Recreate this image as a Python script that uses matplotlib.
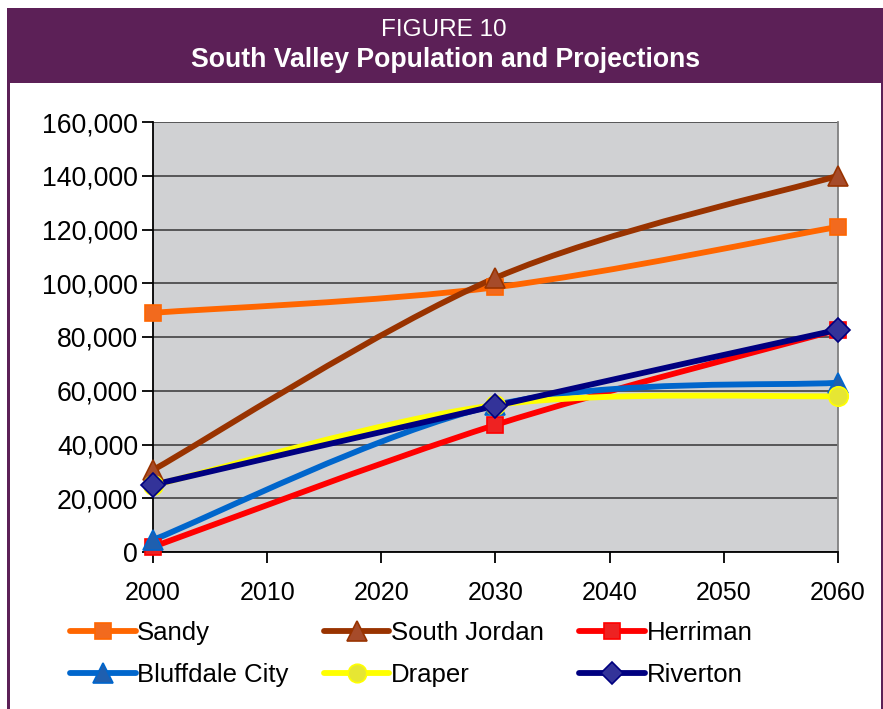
import matplotlib
matplotlib.use("Agg")
import matplotlib.pyplot as plt
from matplotlib.path import Path
from matplotlib.patches import PathPatch, Rectangle
from matplotlib.lines import Line2D
from matplotlib.ticker import FuncFormatter, MultipleLocator
import numpy as np

plt.rcParams['font.family'] = ['Liberation Sans', 'DejaVu Sans']

years = [2000, 2030, 2060]
sandy = [89000, 98500, 121000]
south_jordan = [30500, 102000, 140000]
herriman = [1900, 47300, 82700]
bluffdale = [4500, 54700, 63000]
draper = [24800, 54700, 58000]
riverton = [25000, 54400, 82700]

series_names = ["Sandy", "South Jordan", "Herriman", "Bluffdale City", "Draper", "Riverton"]
series_vals = [sandy, south_jordan, herriman, bluffdale, draper, riverton]
line_colors = ["#FF6600", "#993300", "#FF0000", "#0066CC", "#FFFF00", "#000080"]
marker_faces = ["#F26A1E", "#A64B2A", "#EE2222", "#1F5FAF", "#E6E633", "#333399"]
marker_edges = ["#FF6600", "#993300", "#FF0000", "#0066CC", "#FFFF00", "#000080"]
markers = ["s", "^", "s", "^", "o", "D"]
msizes = [12, 15, 12, 15, 14, 12]

W, H = 883, 709
fig = plt.figure(figsize=(W / 100, H / 100), dpi=100)

# frame / title band
fig.patches.append(Rectangle((7 / W, (H - 83) / H), (W - 7) / W, 75 / H,
                             transform=fig.transFigure, facecolor="#5C2057",
                             edgecolor="none", zorder=0))
fig.patches.append(Rectangle((7 / W, 0), 3 / W, (H - 83) / H,
                             transform=fig.transFigure, facecolor="#5C2057",
                             edgecolor="none", zorder=0))
fig.patches.append(Rectangle((881 / W, 0), 2 / W, (H - 83) / H,
                             transform=fig.transFigure, facecolor="#5C2057",
                             edgecolor="none", zorder=0))
fig.text(444 / W, (H - 30) / H, "FIGURE 10", color="white", fontsize=17.5,
         ha="center", va="center")
fig.text(446 / W, (H - 60) / H, "South Valley Population and Projections",
         color="white", fontsize=19.2, fontweight="bold", ha="center", va="center")

ax = fig.add_axes([153 / W, (H - 552) / H, (838 - 153) / W, (552 - 122) / H])
ax.set_facecolor("#D0D1D3")
ax.set_xlim(2000, 2060)
ax.set_ylim(0, 160000)
ax.xaxis.set_major_locator(MultipleLocator(10))
ax.yaxis.set_major_locator(MultipleLocator(20000))
ax.yaxis.set_major_formatter(FuncFormatter(lambda v, p: f"{int(v):,}"))
ax.grid(axis="y", color="#4D4D4D", linewidth=1.3)
ax.set_axisbelow(True)
ax.spines["top"].set_visible(False)
ax.spines["right"].set_color("#808080")
ax.spines["right"].set_linewidth(1.3)
ax.spines["left"].set_color("black")
ax.spines["bottom"].set_color("black")
ax.spines["left"].set_linewidth(1.3)
ax.spines["bottom"].set_linewidth(1.3)
ax.tick_params(axis="both", direction="out", length=8, width=1.3, colors="black")
ax.tick_params(axis="y", pad=2.8, labelsize=19.2)
ax.tick_params(axis="x", pad=13, labelsize=18)


def smooth_path(xs, ys):
    pts = np.column_stack([xs, ys]).astype(float)
    n = len(pts)
    verts = [tuple(pts[0])]
    codes = [Path.MOVETO]
    for i in range(n - 1):
        p0 = pts[i - 1] if i > 0 else pts[i]
        p1 = pts[i]
        p2 = pts[i + 1]
        p3 = pts[i + 2] if i + 2 < n else pts[i + 1]
        c1 = p1 + (p2 - p0) / 6.0
        c2 = p2 - (p3 - p1) / 6.0
        verts += [tuple(c1), tuple(c2), tuple(p2)]
        codes += [Path.CURVE4] * 3
    return Path(verts, codes)


handles = []
for k, (name, vals) in enumerate(zip(series_names, series_vals)):
    patch = PathPatch(smooth_path(years, vals), fill=False, edgecolor=line_colors[k],
                      linewidth=4.2, capstyle="round", joinstyle="round",
                      zorder=3 + k * 0.1)
    ax.add_patch(patch)
    ax.plot(years, vals, linestyle="none", marker=markers[k], markersize=msizes[k],
            markerfacecolor=marker_faces[k], markeredgecolor=marker_edges[k],
            markeredgewidth=1.2, clip_on=False, zorder=5 + k * 0.1)
    handles.append(Line2D([0], [0], color=line_colors[k], linewidth=4.2,
                          solid_capstyle="round",
                          marker=markers[k], markersize=msizes[k] * 0.95,
                          markerfacecolor=marker_faces[k],
                          markeredgecolor=marker_edges[k], markeredgewidth=1.2,
                          label=name))

# reorder to fill rows (matplotlib fills columns first)
order = [0, 3, 1, 4, 2, 5]
leg = fig.legend([handles[i] for i in order], [series_names[i] for i in order],
                 ncol=3, loc="upper left", bbox_to_anchor=(70 / W, (H - 621) / H),
                 frameon=False, fontsize=18.5, handlelength=2.55,
                 handletextpad=0.07, columnspacing=1.37, labelspacing=0.7,
                 borderpad=0, borderaxespad=0, numpoints=1)

fig.savefig("out.png", dpi=100)
